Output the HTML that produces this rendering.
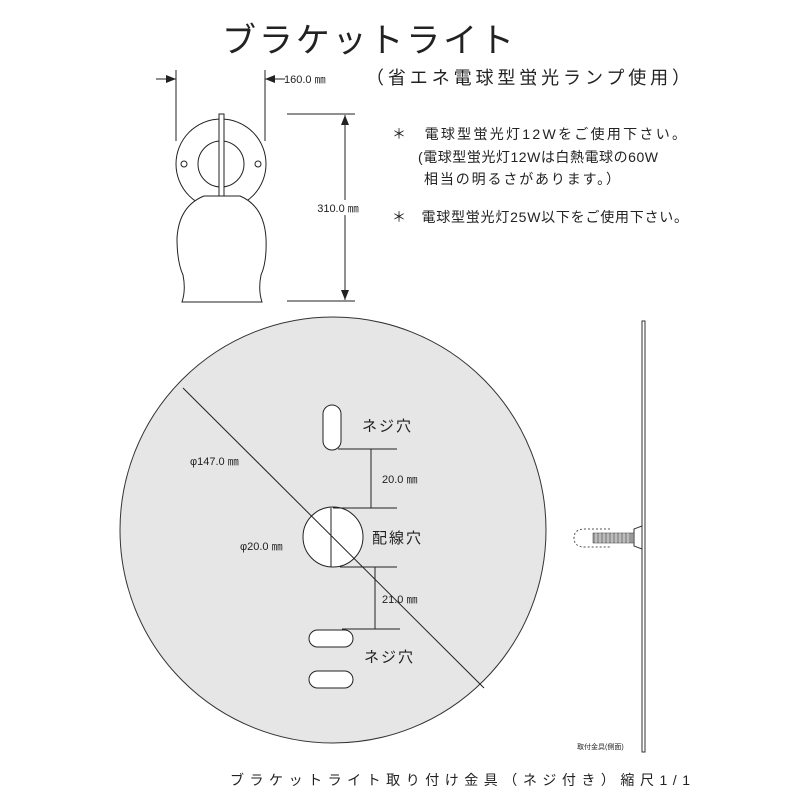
<!DOCTYPE html>
<html><head><meta charset="utf-8"><style>
body{margin:0;background:#fff;}
svg{display:block;}
text{font-family:"Liberation Sans","Noto Sans CJK JP",sans-serif;fill:#222;}
</style></head><body>
<svg width="800" height="800" viewBox="0 0 800 800" xmlns="http://www.w3.org/2000/svg">
<defs>
<marker id="a" markerWidth="10" markerHeight="8" refX="10" refY="4" orient="auto" markerUnits="userSpaceOnUse"><path d="M0,0 L10,4 L0,8z" fill="#222"/></marker>
</defs>
<text x="222" y="52" font-size="34" textLength="292" lengthAdjust="spacing">ブラケットライト</text>
<text x="366" y="84" font-size="18" textLength="324" lengthAdjust="spacing">（省エネ電球型蛍光ランプ使用）</text>

<!-- lamp -->
<g stroke="#222" stroke-width="1" fill="none">
<line x1="176" y1="70" x2="176" y2="141"/>
<line x1="265" y1="70" x2="265" y2="141"/>
<line x1="156" y1="79" x2="176" y2="79" marker-end="url(#a)"/>
<line x1="285" y1="79" x2="265" y2="79" marker-end="url(#a)"/>
<circle cx="221" cy="164" r="45" fill="#fff"/>
<circle cx="221" cy="164" r="23"/>
<circle cx="184" cy="164" r="3"/>
<circle cx="258" cy="164" r="3"/>
<path d="M204,196 L240,196 Q264,206 266,238 Q267,262 261,275 Q258,290 262,302 L182,302 Q186,290 183,275 Q177,262 177,238 Q179,206 204,196z" fill="#fff"/>
<rect x="219" y="114" width="5" height="82" fill="#fff"/>
<line x1="287" y1="114" x2="355" y2="114"/>
<line x1="287" y1="301" x2="355" y2="301"/>
<line x1="345" y1="200" x2="345" y2="115" marker-end="url(#a)"/>
<line x1="345" y1="215" x2="345" y2="300" marker-end="url(#a)"/>
</g>
<text x="284" y="83" font-size="11">160.0 ㎜</text>
<text x="338" y="212" font-size="11" text-anchor="middle" fill="#fff" stroke="#fff" stroke-width="6">310.0 ㎜</text>
<text x="338" y="212" font-size="11" text-anchor="middle">310.0 ㎜</text>

<text x="392" y="139" font-size="14" textLength="294" lengthAdjust="spacing">＊　電球型蛍光灯12Wをご使用下さい。</text>
<text x="418" y="162" font-size="14" textLength="240" lengthAdjust="spacing">(電球型蛍光灯12Wは白熱電球の60W</text>
<text x="424" y="184" font-size="14" textLength="196" lengthAdjust="spacing">相当の明るさがあります。）</text>
<text x="392" y="222" font-size="14" textLength="296" lengthAdjust="spacing">＊　電球型蛍光灯25W以下をご使用下さい。</text>

<!-- plate -->
<circle cx="333" cy="530" r="213" fill="#e6e6e6" stroke="#333" stroke-width="1"/>
<g stroke="#222" stroke-width="1" fill="#fff">
<rect x="323" y="405" width="18" height="45" rx="9"/>
<circle cx="333" cy="537" r="30"/>
<rect x="309" y="630" width="44" height="17" rx="8.5"/>
<rect x="309" y="671" width="44" height="17" rx="8.5"/>
</g>
<g stroke="#222" stroke-width="1" fill="none">
<line x1="183" y1="388" x2="484" y2="688"/>
<line x1="338" y1="449" x2="397" y2="449"/>
<line x1="371" y1="449" x2="371" y2="508"/>
<line x1="333" y1="508" x2="397" y2="508"/>
<line x1="340" y1="567" x2="397" y2="567"/>
<line x1="375" y1="567" x2="375" y2="629"/>
<line x1="342" y1="629" x2="400" y2="629"/>
<line x1="331" y1="508" x2="331" y2="567"/>
</g>
<text x="362" y="431" font-size="15" letter-spacing="2">ネジ穴</text>
<text x="382" y="483" font-size="11">20.0 ㎜</text>
<text x="372" y="543" font-size="15" letter-spacing="2">配線穴</text>
<text x="382" y="603" font-size="11">21.0 ㎜</text>
<text x="364" y="662" font-size="15" letter-spacing="2">ネジ穴</text>
<text x="190" y="465" font-size="11">φ147.0 ㎜</text>
<text x="240" y="550" font-size="11">φ20.0 ㎜</text>

<!-- side view -->
<rect x="642" y="321" width="3" height="431" fill="#fff" stroke="#333" stroke-width="1"/>
<path d="M642,526 L634,529 L634,546 L642,549z" fill="#fff" stroke="#333"/>
<rect x="593" y="533" width="41" height="10" fill="#999" stroke="#333" stroke-width="0.5"/>
<g stroke="#fff" stroke-width="0.7"><line x1="596" y1="533" x2="596" y2="543"/><line x1="600" y1="533" x2="600" y2="543"/><line x1="604" y1="533" x2="604" y2="543"/><line x1="608" y1="533" x2="608" y2="543"/><line x1="612" y1="533" x2="612" y2="543"/><line x1="616" y1="533" x2="616" y2="543"/><line x1="620" y1="533" x2="620" y2="543"/><line x1="624" y1="533" x2="624" y2="543"/><line x1="628" y1="533" x2="628" y2="543"/></g>
<path d="M610,529 L585,529 Q574,529 574,538 Q574,547 585,547 L610,547" fill="none" stroke="#555" stroke-dasharray="2,2"/>
<text x="577" y="749" font-size="7">取付金具(側面)</text>

<text x="230" y="785" font-size="14" textLength="460" lengthAdjust="spacing">ブラケットライト取り付け金具（ネジ付き）縮尺1/1</text>
</svg>
</body></html>
